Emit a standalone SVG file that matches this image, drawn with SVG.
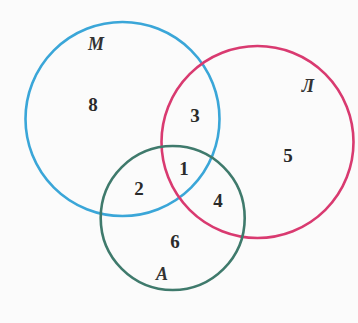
<svg xmlns="http://www.w3.org/2000/svg" width="358" height="323" viewBox="0 0 358 323">
<style>
.c{fill:none;stroke-width:2.6}
.n{font-family:"Liberation Serif","DejaVu Serif",serif;font-size:19px;font-weight:bold;fill:#2a2a2a;text-anchor:middle}
.l{font-family:"Liberation Serif","DejaVu Serif",serif;font-size:18px;font-style:italic;font-weight:bold;fill:#333;text-anchor:middle}
</style>
<rect width="358" height="323" fill="#fbfbfb"/>
<g id="M">
<circle class="c" cx="122.5" cy="119" r="97" stroke="#3aa6d8"/>
<text class="l" x="96" y="50">M</text>
</g>
<g id="L">
<circle class="c" cx="257.5" cy="142" r="96" stroke="#d93a70"/>
<text class="l" x="308" y="92">Л</text>
</g>
<g id="A">
<circle class="c" cx="172.7" cy="218" r="72" stroke="#3f7a6c"/>
<text class="l" x="162" y="280">A</text>
</g>
<g id="numbers">
<text class="n" x="93" y="111">8</text>
<text class="n" x="195" y="122">3</text>
<text class="n" x="288" y="162">5</text>
<text class="n" x="184" y="175">1</text>
<text class="n" x="139" y="195">2</text>
<text class="n" x="218" y="207">4</text>
<text class="n" x="175" y="248">6</text>
</g>
</svg>
